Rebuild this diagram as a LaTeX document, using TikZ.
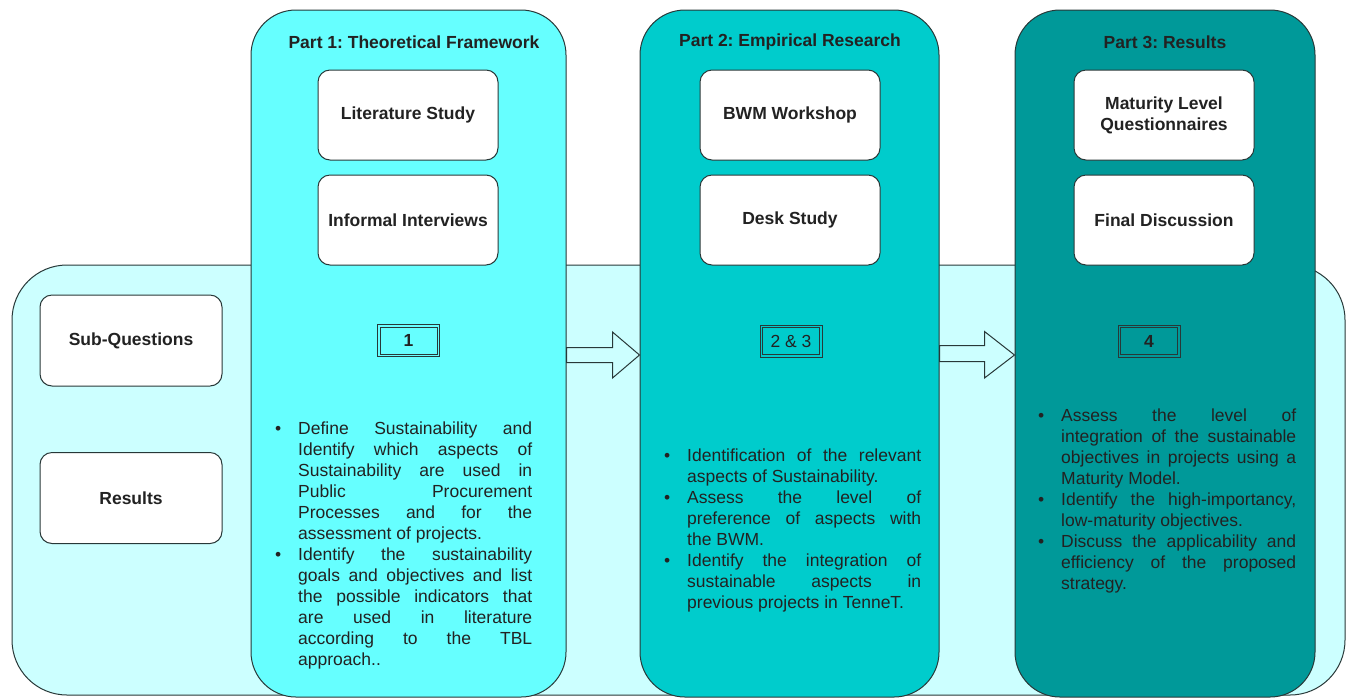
\documentclass[tikz,border=0pt]{standalone}
\usepackage{fontspec}
\setmainfont{Liberation Sans}
\usetikzlibrary{calc}
\definecolor{bg}{HTML}{CCFFFF}
\definecolor{cA}{HTML}{66FFFF}
\definecolor{cB}{HTML}{00CCCC}
\definecolor{cC}{HTML}{009999}
\definecolor{ln}{HTML}{283838}
\definecolor{tx}{HTML}{222222}
\newcommand{\bul}{\par\noindent\hangindent=21pt\relax\hangafter=1\relax\makebox[21pt][l]{\hspace{-2pt}\textbullet}}
\newcommand{\nohyph}{\tolerance=10000\relax\hyphenpenalty=10000\relax\exhyphenpenalty=10000\relax}
\frenchspacing
\tikzset{
  lbl/.style={font=\fontsize{17.5}{21}\selectfont\bfseries\frenchspacing, text=tx},
  panel/.style={draw=ln, line width=1pt, rounded corners=45pt, inner sep=0pt},
  inbox/.style={draw=ln, line width=1pt, fill=white, rounded corners=12pt, minimum width=180pt, minimum height=90pt, align=center, lbl},
  numbox/.style={draw=ln, line width=1pt, minimum width=62pt, minimum height=32pt, inner sep=0pt, lbl},
  numinner/.style={draw=ln, line width=0.8pt},
  bullets/.style={text width=255pt, align=justify, inner sep=0pt, anchor=north west,
    font=\fontsize{17.5}{21}\selectfont\nohyph\frenchspacing, text=tx},
  blockarrow/.style={draw=ln, fill=bg, line width=1pt, line join=miter}
}
\begin{document}
\begin{tikzpicture}[x=1pt, y=-1pt]
\useasboundingbox (0,0) rectangle (1348,697);
% background band
\node[panel, fill=bg, rounded corners=55pt, minimum width=1333pt, minimum height=430pt] (band) at (678.5,480) {};
% columns
\node[panel, fill=cA, minimum width=315pt, minimum height=687pt] (p1) at (408.5,353.5) {};
\node[panel, fill=cB, minimum width=299pt, minimum height=687pt] (p2) at (789.5,353.5) {};
\node[panel, fill=cC, minimum width=300pt, minimum height=687pt] (p3) at (1165,353.5) {};
% arrows
\draw[blockarrow] ($(p1.east)+(0,-6)$) coordinate (a1s)
  -- ++(46,0) -- ++(0,-15.5) -- ($(p2.west)+(0,1.5)$) -- ($(p1.east)+(46,24.5)$) -- ++(0,-15.5) -- ($(p1.east)+(0,9)$) -- cycle;
\draw[blockarrow] ($(p2.east)+(0,-8)$) coordinate (a2s)
  -- ++(45,0) -- ++(0,-14) -- ($(p3.west)+(0,1.5)$) -- ($(p2.east)+(45,24.5)$) -- ++(0,-16.5) -- ($(p2.east)+(0,8)$) -- cycle;
% titles
\node[lbl] (t1) at (414,42) {Part 1: Theoretical Framework};
\node[lbl] (t2) at (790,42) {Part 2: Empirical Research};
\node[lbl] (t3) at (1165,42) {Part 3: Results};
% inner boxes
\node[inbox] (b11) at (408,115) {Literature Study};
\node[inbox] (b12) at (408,220) {Informal Interviews};
\node[inbox] (b21) at (790,115) {BWM Workshop};
\node[inbox] (b22) at (790,220) {Desk Study};
\node[inbox] (b31) at (1164,115) {Maturity Level\\Questionnaires};
\node[inbox] (b32) at (1164,220) {Final Discussion};
% left boxes
\node[inbox, minimum width=182pt, minimum height=91pt] (sq) at (131,340.5) {Sub-Questions};
\node[inbox, minimum width=182pt, minimum height=91pt] (rs) at (131,498) {Results};
% number boxes
\node[numbox] (n1) at (408.5,340.5) {1};
\node[numbox, font=\fontsize{17.5}{21}\selectfont] (n2) at (791,341) {2 \& 3};
\node[numbox] (n3) at (1149,341) {4};
\foreach \n in {n1,n2,n3}
  \draw[numinner] ($(\n.north west)+(3,3)$) rectangle ($(\n.south east)+(-3,-3)$);
% bullet texts
\node[bullets] (l1) at (277,413) {%
\bul Define Sustainability and\linebreak Identify which aspects of\linebreak Sustainability are used in\linebreak Public Procurement\linebreak Processes and for the\linebreak assessment of projects.
\bul Identify the sustainability\linebreak goals and objectives and list\linebreak the possible indicators that\linebreak are used in literature\linebreak according to the TBL\linebreak approach..\par};
\node[bullets] (l2) at (666,440) {%
\bul Identification of the relevant\linebreak aspects of Sustainability.
\bul Assess the level of\linebreak preference of aspects with\linebreak the BWM.
\bul Identify the integration of\linebreak sustainable aspects in\linebreak previous projects in TenneT.\par};
\node[bullets, text width=256pt] (l3) at (1040,400) {%
\bul Assess the level of\linebreak integration of the sustainable\linebreak objectives in projects using a\linebreak Maturity Model.
\bul Identify the high-importancy,\linebreak low-maturity objectives.
\bul Discuss the applicability and\linebreak efficiency of the proposed\linebreak strategy.\par};
\end{tikzpicture}
\end{document}
